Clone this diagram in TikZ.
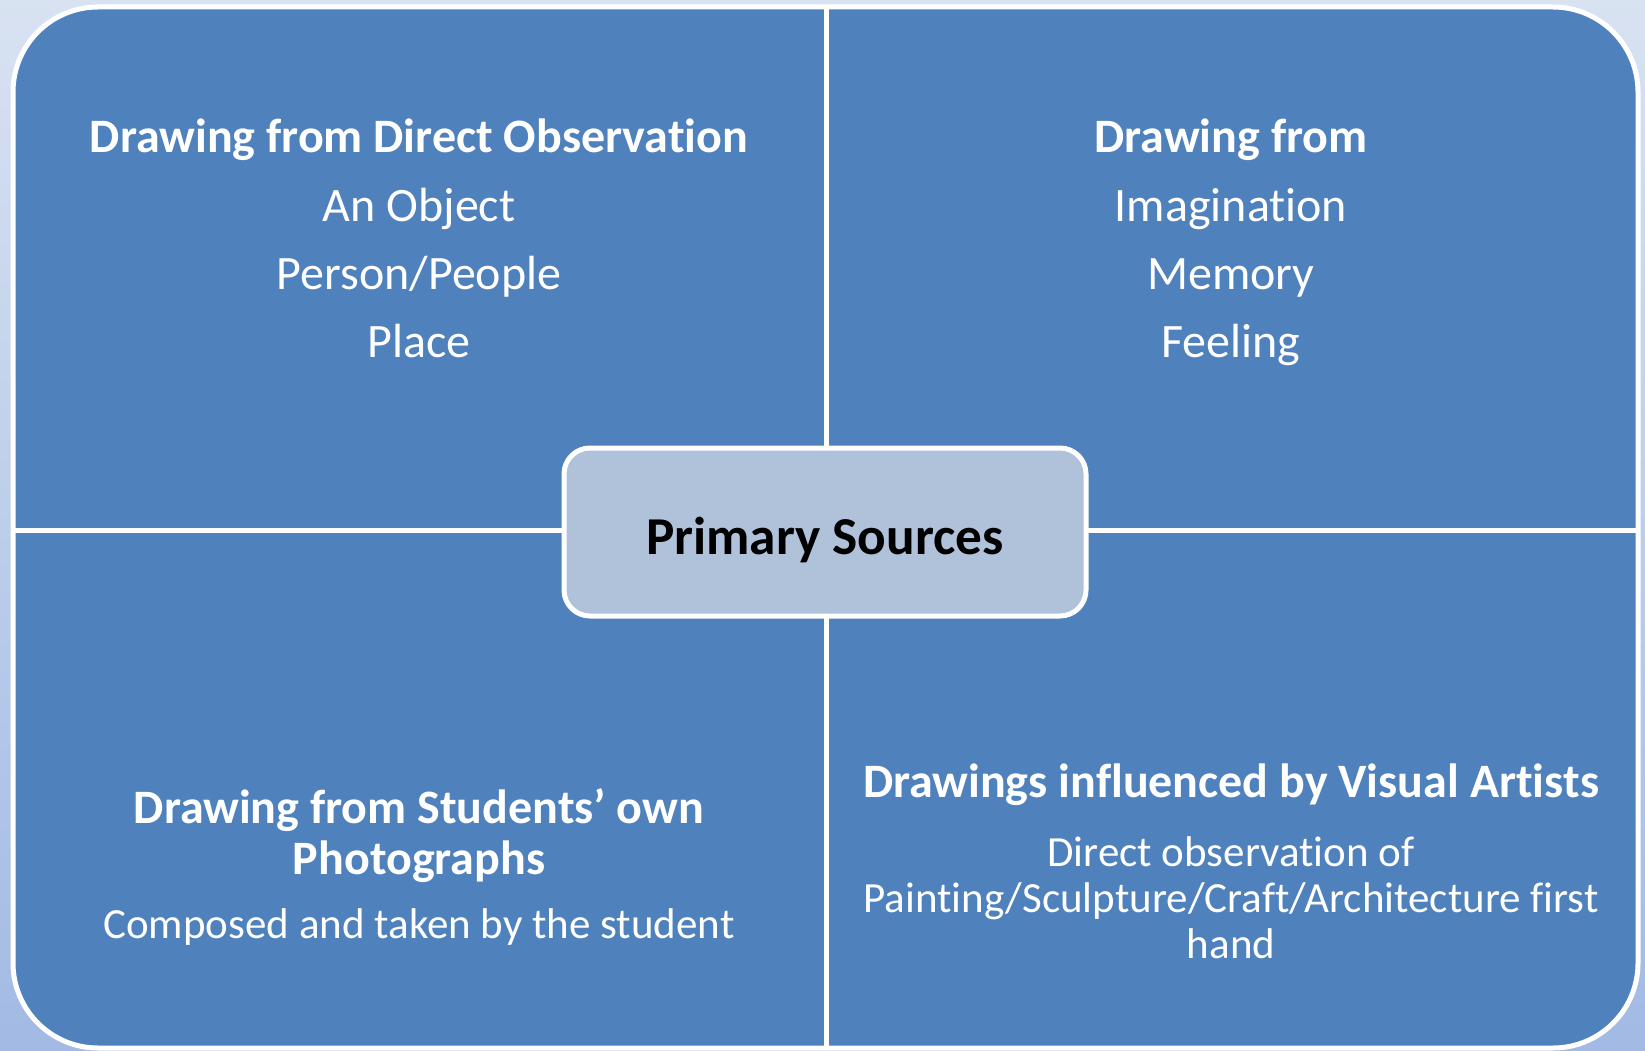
\documentclass[tikz,border=0pt]{standalone}
\usepackage{fontspec}
\setmainfont{Carlito}[Ligatures={NoCommon,NoRare,NoContextual}, RawFeature=-liga, RawFeature=-clig, RawFeature=-dlig]
\definecolor{bgtop}{HTML}{D8E2F1}
\definecolor{bgbot}{HTML}{A2BAE4}
\definecolor{boxblue}{HTML}{4F81BD}
\definecolor{centerfill}{HTML}{B0C1DA}
\tikzset{
  quad/.style={anchor=base, inner sep=0pt, text=white},
  ttl/.style={quad, font=\fontsize{48}{57}\selectfont\bfseries},
  bigbody/.style={quad, font=\fontsize{48}{57}\selectfont},
  smallbody/.style={quad, font=\fontsize{43}{51}\selectfont},
  divider/.style={draw=white, line width=5pt},
  centerbox/.style={draw=white, line width=5pt, fill=centerfill, rounded corners=26pt,
    minimum width=522pt, minimum height=168pt, inner sep=0pt,
    text height=44pt, text depth=0pt,
    font=\fontsize{53.3}{62}\selectfont\bfseries, text=black}
}
\begin{document}
\begin{tikzpicture}[x=1pt,y=-1pt]
\useasboundingbox (0,0) rectangle (1645,1051);
\shade[top color=bgtop, bottom color=bgbot] (0,0) rectangle (1645,1051);
\draw[divider, fill=boxblue, rounded corners=85pt] (13,7) rectangle (1638,1048);
\coordinate (vt) at (826,7);
\coordinate (vb) at (826,1048);
\coordinate (hl) at (13,530);
\coordinate (hr) at (1638,530);
\draw[divider] (vt) -- (vb);
\draw[divider] (hl) -- (hr);
\node[centerbox] (ps) at (825,532) {Primary Sources};
% top left
\node[ttl] (tl1) at (419,153) {Drawing from Direct Observation};
\node[bigbody] (tl2) at (419,221) {An Object};
\node[bigbody] (tl3) at (419,289) {Person/People};
\node[bigbody] (tl4) at (419,357) {Place};
% top right
\node[ttl] (tr1) at (1231,153) {Drawing from};
\node[bigbody] (tr2) at (1231,221) {Imagination};
\node[bigbody] (tr3) at (1231,289) {Memory};
\node[bigbody] (tr4) at (1231,357) {Feeling};
% bottom left
\node[ttl] (bl1) at (419,823) {Drawing from Students’ own};
\node[ttl] (bl2) at (419,874) {Photographs};
\node[smallbody] (bl3) at (419,938) {Composed and taken by the student};
% bottom right
\node[ttl] (br1) at (1231,797) {Drawings influenced by Visual Artists};
\node[smallbody] (br2) at (1231,866) {Direct observation of};
\node[smallbody] (br3) at (1231,912) {Painting/Sculpture/Craft/Architecture first};
\node[smallbody] (br4) at (1231,958) {hand};
\end{tikzpicture}
\end{document}
